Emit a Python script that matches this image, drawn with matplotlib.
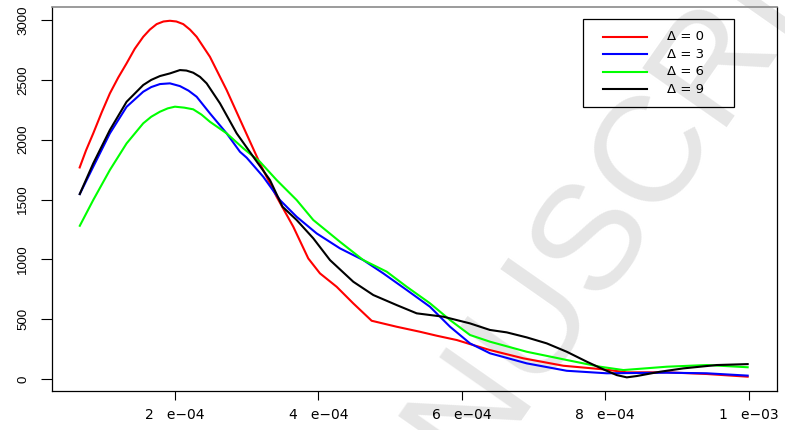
import matplotlib
matplotlib.use("Agg")
import matplotlib.pyplot as plt
from matplotlib.patches import Rectangle

# ---- data (x in units of 1e-4) ----
x_d0 = [0.667, 0.76, 0.861, 0.98, 1.093, 1.21, 1.326, 1.44, 1.558, 1.65, 1.745, 1.84,
        1.930, 2.02, 2.116, 2.21, 2.303, 2.488, 2.721,
        2.953, 3.185, 3.418, 3.650, 3.859, 4.022, 4.255, 4.487, 4.743, 5.092, 5.417,
        5.650, 5.929, 6.114, 6.393, 6.858, 7.416, 7.973, 8.300, 8.858, 9.416, 10.0]
y_d0 = [1760, 1910, 2053, 2230, 2387, 2520, 2638, 2760, 2860, 2920, 2966, 2988,
        2994, 2988, 2966, 2920, 2860, 2693, 2415,
        2108, 1802, 1523, 1273, 1008, 883, 771, 632, 487, 437, 395,
        362, 326, 292, 242, 173, 111, 81, 56, 56, 42, 19]

x_d3 = [0.667, 0.861, 1.093, 1.326, 1.558, 1.67, 1.791, 1.930, 2.070, 2.19, 2.303,
        2.488, 2.721, 2.907, 3.0, 3.232, 3.464, 3.697, 3.976, 4.301, 4.626, 4.905,
        5.232, 5.556, 5.836, 6.114, 6.393, 6.905, 7.463, 8.021, 8.858, 9.416, 10.0]
y_d3 = [1538, 1774, 2053, 2275, 2401, 2440, 2465, 2471, 2448, 2410, 2359,
        2220, 2053, 1899, 1850, 1690, 1496, 1356, 1217, 1092, 994, 883,
        744, 604, 437, 298, 215, 131, 69, 48, 53, 48, 28]

x_d6 = [0.667, 0.861, 1.093, 1.326, 1.558, 1.67, 1.791, 1.9, 2.0, 2.13, 2.255, 2.37,
        2.488, 2.721, 2.953, 3.185, 3.418, 3.697, 3.929, 4.301, 4.626, 4.953, 5.232,
        5.556, 5.836, 6.114, 6.393, 6.905, 7.463, 7.927, 8.253, 8.858, 9.416, 10.0]
y_d6 = [1273, 1496, 1747, 1969, 2137, 2192, 2234, 2262, 2276, 2268, 2254, 2210,
        2150, 2053, 1928, 1816, 1663, 1496, 1329, 1147, 994, 897, 771,
        633, 493, 368, 312, 228, 159, 103, 75, 103, 117, 98]

x_d9 = [0.667, 0.861, 1.093, 1.326, 1.558, 1.67, 1.791, 1.930, 2.070, 2.16, 2.255,
        2.35, 2.442, 2.628, 2.861, 3.092, 3.325, 3.5, 3.697, 3.929, 4.162, 4.487,
        4.766, 5.092, 5.371, 5.742, 6.114, 6.393, 6.626, 6.905, 7.184, 7.463, 7.742,
        7.973, 8.160, 8.300, 8.439, 8.764, 9.089, 9.555, 10.0]
y_d9 = [1538, 1802, 2081, 2317, 2457, 2500, 2532, 2554, 2582, 2578, 2560,
        2525, 2471, 2304, 2053, 1858, 1663, 1440, 1329, 1176, 994, 813,
        702, 618, 549, 521, 465, 410, 390, 348, 298, 228, 145,
        81, 33, 14, 25, 61, 89, 117, 125]

series_x = [x_d0, x_d3, x_d6, x_d9]
series_y = [y_d0, y_d3, y_d6, y_d9]
labels = ["\u0394 = 0", "\u0394 = 3", "\u0394 = 6", "\u0394 = 9"]
colors = ["#ff0000", "#0000ff", "#00ff00", "#000000"]

xticks = [2e-4, 4e-4, 6e-4, 8e-4, 1e-3]
xticklabels = ["2   e\u221204", "4   e\u221204", "6   e\u221204", "8   e\u221204", "1   e\u221203"]
yticks = [0, 500, 1000, 1500, 2000, 2500, 3000]

# ---- figure ----
fig = plt.figure(figsize=(7.85, 4.30), dpi=100)
fig.patch.set_facecolor("white")

# watermark (behind everything)
fig.text(595 / 785, 1 - 230 / 430, "MANUSCRIPT", fontsize=108,
         family="Liberation Sans", color="#e6e6e6", rotation=55,
         ha="center", va="center", rotation_mode="anchor", zorder=-5)

ax = fig.add_axes([0.0666, 0.0907, 0.9228, 0.8930])
ax.set_zorder(2)
ax.set_facecolor("none")

for xs, ys, c, lab in zip(series_x, series_y, colors, labels):
    ax.plot([v * 1e-4 for v in xs], ys, color=c, lw=1.5, label=lab,
            solid_joinstyle="round", solid_capstyle="butt")

ax.set_xlim(0.29e-4, 1.039e-3)
ax.set_ylim(-100, 3109)

ax.set_xticks(xticks)
ax.set_xticklabels(xticklabels, family="DejaVu Sans", fontsize=10)
ax.set_yticks(yticks)
ax.set_yticklabels([str(v) for v in yticks], family="Liberation Sans",
                   fontsize=9.5, rotation=90, va="center")

ax.tick_params(axis="x", length=6.5, width=0.8, pad=6.0, color="black")
ax.tick_params(axis="y", length=7.6, width=0.8, pad=9.0, color="black")
for s in ["left", "bottom", "right"]:
    ax.spines[s].set_linewidth(0.9)
    ax.spines[s].set_color("black")
ax.spines["top"].set_linewidth(1.2)
ax.spines["top"].set_color("#8a8a8a")

# ---- legend (R-style box) ----
box_l, box_r, box_t, box_b = 0.733, 0.941, 0.968, 0.740
ax.add_patch(Rectangle((box_l, box_b), box_r - box_l, box_t - box_b,
                       transform=ax.transAxes, fill=False, ec="black", lw=0.9,
                       zorder=5))
row_y = [0.9227, 0.8768, 0.8315, 0.7857]
for ry, c, lab in zip(row_y, colors, labels):
    ax.plot([0.7606, 0.8206], [ry, ry], transform=ax.transAxes, color=c, lw=1.5,
            zorder=6)
    ax.text(0.848, ry, lab, transform=ax.transAxes, family="DejaVu Sans",
            fontsize=9.5, va="center", ha="left", zorder=6)

fig.savefig("out.png", dpi=100)
